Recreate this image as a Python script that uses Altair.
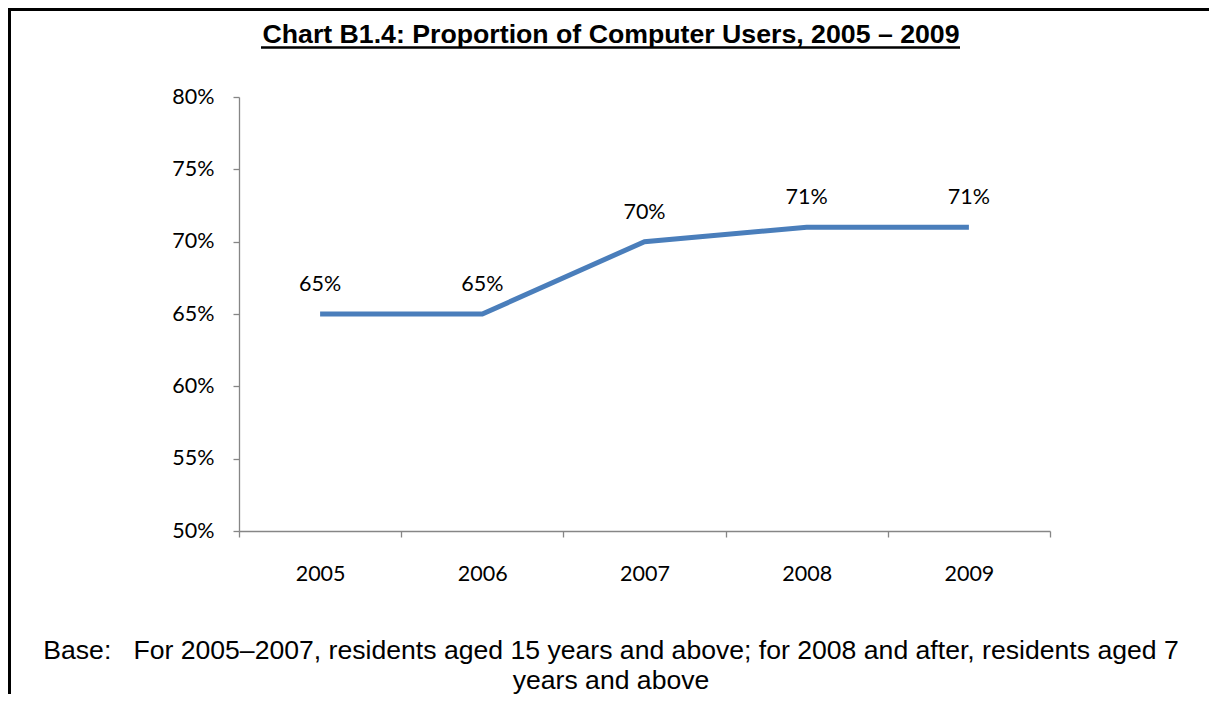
import altair as alt
import pandas as pd

years = ["2005", "2006", "2007", "2008", "2009"]
share = [0.65, 0.65, 0.70, 0.71, 0.71]
labels = ["65%", "65%", "70%", "71%", "71%"]
y_ticks = [0.50, 0.55, 0.60, 0.65, 0.70, 0.75, 0.80]

title_text = "Chart B1.4: Proportion of Computer Users, 2005 \u2013 2009"
footer_lines = [
    "Base:" + "\u00a0" * 3 + "For 2005\u20132007, residents aged 15 years and above; for 2008 and after, residents aged 7",
    "years and above",
]

df = pd.DataFrame({"year": years, "share": share, "label": labels})

AXIS_GREY = "#868686"
LABEL_FONT = "Lato"
ARIAL = "Liberation Sans"

x_enc = alt.X(
    "year:N",
    scale=alt.Scale(type="band", paddingInner=0, paddingOuter=0),
    bandPosition=0.5,
    axis=alt.Axis(
        title=None, tickBand="extent", domainColor=AXIS_GREY, tickColor=AXIS_GREY,
        domainWidth=1.3, tickWidth=1.3, tickSize=6, labelFont=LABEL_FONT,
        labelFontSize=21.5, labelColor="#000000", labelPadding=26, labelAngle=0,
        grid=False,
    ),
)
y_enc = alt.Y(
    "share:Q",
    scale=alt.Scale(domain=[0.5, 0.8], nice=False, zero=False),
    axis=alt.Axis(
        title=None, values=y_ticks, format=".0%", domainColor=AXIS_GREY,
        tickColor=AXIS_GREY, domainWidth=1.3, tickWidth=1.3, tickSize=6,
        labelFont=LABEL_FONT, labelFontSize=21.5, labelColor="#000000",
        labelPadding=19, grid=False,
    ),
)

base = alt.Chart(df)
line = base.mark_line(color="#4A7EBB", strokeWidth=5).encode(x=x_enc, y=y_enc)
text = base.mark_text(
    font=LABEL_FONT, fontSize=21.5, color="#000000", baseline="alphabetic", dy=-23
).encode(x=x_enc, y=y_enc, text="label:N")

title_df = pd.DataFrame({"t": [title_text]})
title = alt.Chart(title_df).mark_text(
    font=ARIAL, fontSize=26.7, fontWeight="bold", color="#000000",
    align="center", baseline="alphabetic",
).encode(text="t:N", x=alt.value(372), y=alt.value(-54))
underline = alt.Chart(title_df).mark_rule(color="#000000", strokeWidth=2.3).encode(
    x=alt.value(22), x2=alt.value(721), y=alt.value(-49.5)
)

footer_df = pd.DataFrame({"t": ["\n".join(footer_lines)]})
footer = alt.Chart(footer_df).mark_text(
    font=ARIAL, fontSize=26.6, color="#000000", align="center",
    baseline="alphabetic", lineBreak="\n", lineHeight=30,
).encode(text="t:N", x=alt.value(372), y=alt.value(562))

border_top = alt.Chart(title_df).mark_rule(color="#000000", strokeWidth=3).encode(
    x=alt.value(-231), x2=alt.value(970), y=alt.value(-87.5)
)
border_left = alt.Chart(title_df).mark_rule(color="#000000", strokeWidth=3).encode(
    x=alt.value(-229.5), y=alt.value(-89), y2=alt.value(600)
)

chart = (
    alt.layer(line, text, title, underline, footer, border_top, border_left)
    .properties(
        width=811, height=434,
        padding={"left": 231, "top": 89, "right": 159, "bottom": 163},
        autosize=alt.AutoSizeParams(type="none"),
        background="#ffffff",
    )
    .configure_view(stroke=None)
)

chart.save("out.html", embed_options={"renderer": "svg", "actions": False})
